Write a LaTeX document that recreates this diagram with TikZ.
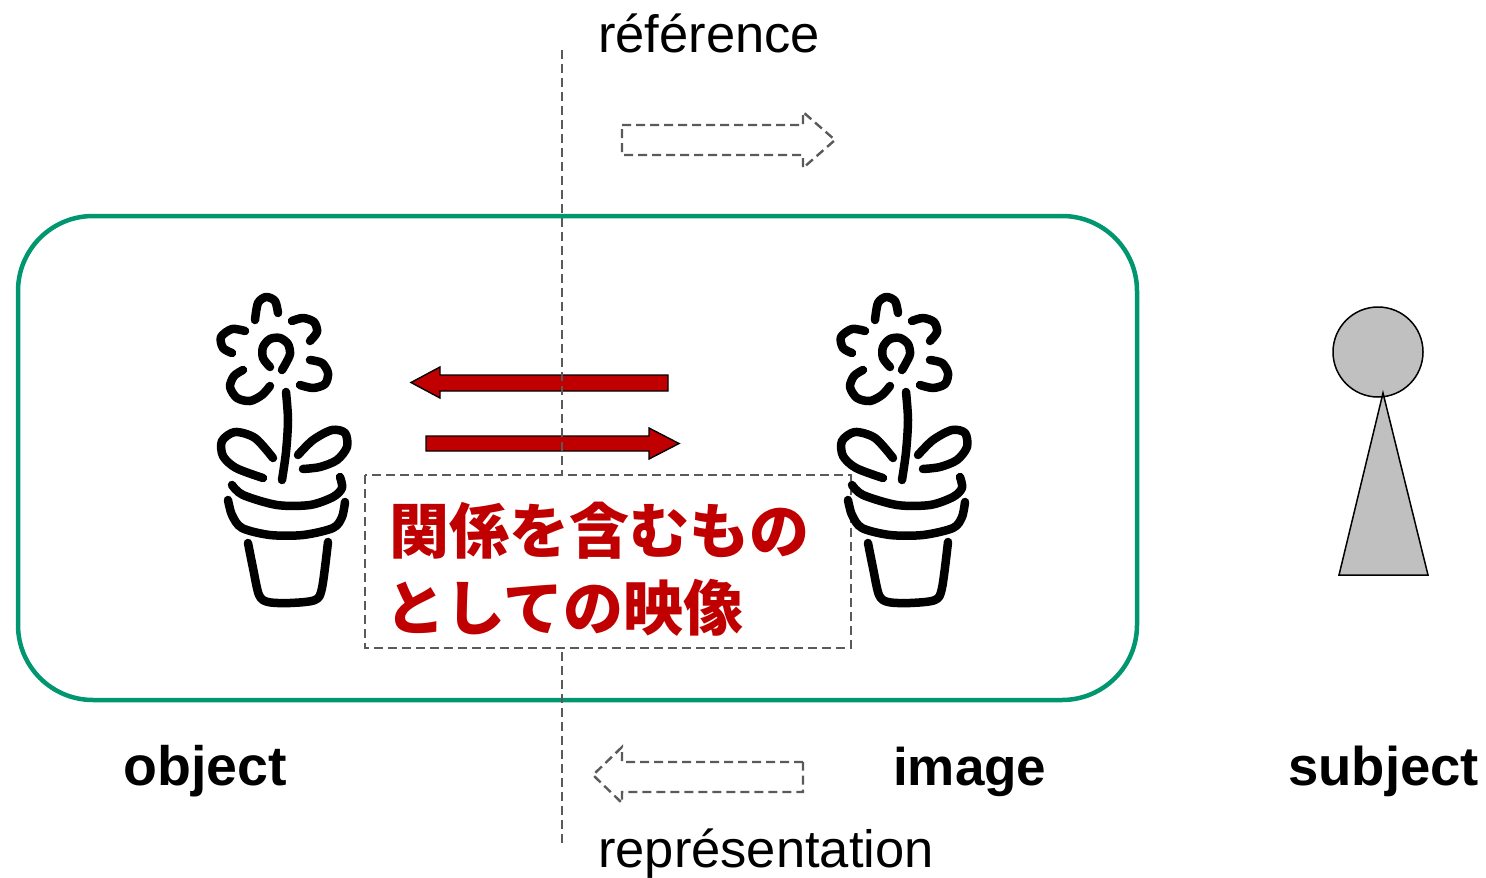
\documentclass[tikz,border=0pt]{standalone}
\usepackage{fontspec}
\setmainfont{Liberation Sans}
\newfontfamily\jpfont{Noto Sans CJK JP}
\definecolor{framegreen}{RGB}{0,150,112}
\definecolor{arrowred}{RGB}{192,0,0}
\definecolor{dashgray}{RGB}{90,90,90}
\definecolor{persongray}{RGB}{192,192,192}
\tikzset{
  guide/.style={draw=dashgray, line width=2.4pt, dash pattern=on 9pt off 5pt},
  blockarrow/.style={fill=arrowred, draw=black, line width=1.4pt, line join=miter},
  ink/.style={line width=8.5pt, line cap=round, line join=round},
  plain/.style={inner sep=0pt, anchor=base west, font=\fontsize{52.5}{60}\selectfont},
  label/.style={inner sep=0pt, anchor=base west, font=\fontsize{53}{60}\selectfont\bfseries},
  caption/.style={inner sep=0pt, anchor=base west, text=arrowred, font=\jpfont\bfseries\fontsize{60}{60}\selectfont},
  flowerpot/.pic={
    % petals
    \draw[ink] plot[smooth] coordinates {(255,320) (258,303) (266,297) (275,301) (278,313)};
    \draw[ink] plot[smooth] coordinates {(292,321) (303,318) (314,322) (317,332) (310,341)};
    \draw[ink] plot[smooth] coordinates {(245,331) (232,329) (221,337) (223,348) (232,353)};
    \draw[ink] plot[smooth] coordinates {(310,360) (322,363) (328,373) (325,384) (313,388) (300,385)};
    \draw[ink] plot[smooth] coordinates {(243,370) (234,376) (230,387) (237,398) (250,401) (262,395) (270,386)};
    % centre of the bloom
    \draw[ink] plot[smooth] coordinates {(270,367) (263,358) (263,347) (270,339) (280,338) (288,344) (290,354) (286,363) (282,370)};
    % stem and leaves
    \draw[ink] plot[smooth] coordinates {(286,392) (288,420) (286,452) (282,480)};
    \draw[ink] plot[smooth] coordinates {(273,458) (255,438) (235,432) (222,441) (223,456) (236,468) (263,478)};
    \draw[ink] plot[smooth] coordinates {(298,455) (313,440) (332,430) (345,433) (347,447) (337,460) (320,467) (303,469)};
    % pot
    \draw[ink] plot[smooth] coordinates {(232,485) (243,495) (277,505) (310,505) (333,497) (342,488) (340,477)};
    \draw[ink] plot[smooth] coordinates {(228,500) (232,515) (242,528) (270,535) (303,535) (333,528) (342,517) (345,502)};
    \draw[ink] plot[smooth] coordinates {(248,543) (253,568) (259,595) (268,602) (290,603) (315,600) (322,588) (328,542)};
  }
}
\begin{document}
\begin{tikzpicture}[x=1pt, y=-1pt]
\useasboundingbox (0,0) rectangle (1486,878);

% frame around object and image
\draw[framegreen, line width=4.5pt, rounded corners=75pt] (18,216) rectangle (1137,700);

% red relation arrows
\draw[blockarrow] (668,375) -- (440,375) -- (440,367) -- (411,382.5) -- (440,398) -- (440,391) -- (668,391) -- cycle;
\draw[blockarrow] (426,436) -- (649,436) -- (649,428) -- (679,443.5) -- (649,459) -- (649,451) -- (426,451) -- cycle;

% dividing line
\coordinate (lineTop) at (562,50);
\coordinate (lineBottom) at (562,845);
\draw[guide] (lineTop) -- (lineBottom);

% reference / representation outline arrows
\draw[guide, line join=miter] (622,125) -- (803,125) -- (803,112) -- (835,140) -- (803,168) -- (803,155) -- (622,155) -- cycle;
\draw[guide, line join=miter] (803,762) -- (622,762) -- (622,747) -- (593,775) -- (622,803) -- (622,792) -- (803,792) -- cycle;

\node[plain] (reference) at (598,52) {référence};
\node[plain] (representation) at (598,867) {représentation};

% caption box
\draw[guide, fill=white] (365,475) rectangle (851,648);
\node[caption] (caption1) at (389,553) {関係を含むもの};
\node[caption] (caption2) at (385,630) {としての映像};

% the two flower pots
\pic at (0,0) {flowerpot};
\pic at (620,0) {flowerpot};

% the subject
\fill[persongray] (1339,575) -- (1383,393) -- (1428,575) -- cycle;
\draw[line width=1.5pt, fill=persongray] (1378,352) circle[radius=45pt];
\draw[line width=1.5pt, line join=miter] (1339,575) -- (1383,393) -- (1428,575) -- cycle;

% labels
\node[label, font=\fontsize{55.5}{60}\selectfont\bfseries] (object) at (123,785) {object};
\node[label] (image) at (893,785) {image};
\node[label, font=\fontsize{54.5}{60}\selectfont\bfseries] (subject) at (1288,785) {subject};
\end{tikzpicture}
\end{document}
